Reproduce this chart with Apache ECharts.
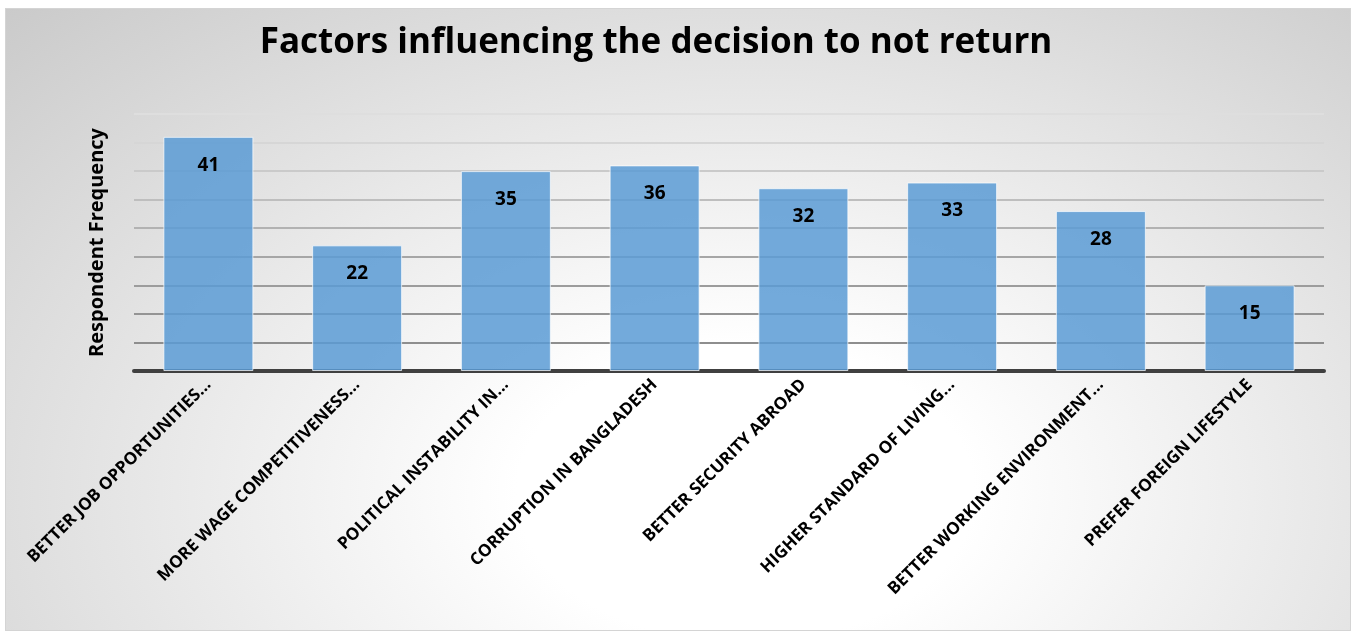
<!DOCTYPE html>
<html>
<head>
<meta charset="utf-8">
<script src="https://cdn.jsdelivr.net/npm/echarts@6/dist/echarts.min.js"></script>
<style>
  html, body { margin: 0; padding: 0; background: #ffffff; }
  #frame {
    position: absolute; left: 5px; top: 8px; width: 1346px; height: 623px;
    box-sizing: border-box; border: 1px solid #d4d4d4;
    background: radial-gradient(ellipse 85% 120% at 55% 78%, #ffffff 0%, #ffffff 20%, #c4c4c4 100%);
  }
  #chart { position: absolute; left: 0; top: 0; width: 1355px; height: 631px; }
</style>
</head>
<body>
<div id="frame"></div>
<div id="chart"></div>
<script>
const titleText = 'Factors influencing the decision to not return';
const yAxisName = 'Respondent Frequency';
const categories = [
  'BETTER JOB OPPORTUNITIES...',
  'MORE WAGE COMPETITIVENESS...',
  'POLITICAL INSTABILITY IN...',
  'CORRUPTION IN BANGLADESH',
  'BETTER SECURITY ABROAD',
  'HIGHER STANDARD OF LIVING...',
  'BETTER WORKING ENVIRONMENT...',
  'PREFER FOREIGN LIFESTYLE'
];
const frequencies = [41, 22, 35, 36, 32, 33, 28, 15];
const yMin = 0, yMax = 45, yInterval = 5;

const gridColors = ['#8a8a8a','#8e8e8e','#949494','#9c9c9c','#a6a6a6','#b2b2b2','#bebebe','#cacaca','#d6d6d6','#dedede'];

const chart = echarts.init(document.getElementById('chart'), null, { renderer: 'canvas' });
chart.setOption({
  backgroundColor: 'transparent',
  title: {
    text: titleText,
    left: 651, top: 21, textAlign: 'center',
    textStyle: { fontFamily: 'Open Sans', fontWeight: 'bold', fontSize: 35, color: '#000000' }
  },
  grid: { left: 134, right: 31, top: 114, bottom: 260, containLabel: false },
  xAxis: {
    type: 'category',
    data: categories,
    axisLine: { show: true, lineStyle: { color: '#404040', width: 4 } },
    axisTick: { show: false },
    axisLabel: {
      interval: 0, rotate: 45, margin: 11,
      fontFamily: 'Open Sans', fontWeight: 'bold', fontSize: 17, color: '#000000'
    }
  },
  yAxis: {
    type: 'value', min: yMin, max: yMax, interval: yInterval,
    name: yAxisName, nameLocation: 'middle', nameGap: 27, nameRotate: 90,
    nameTextStyle: { fontFamily: 'Open Sans', fontWeight: 'bold', fontSize: 20, color: '#000000' },
    axisLine: { show: false }, axisTick: { show: false },
    axisLabel: { show: false },
    splitLine: { show: true, lineStyle: { color: gridColors, width: 2 } }
  },
  series: [{
    type: 'bar',
    data: frequencies,
    barWidth: '60.5%',
    itemStyle: { color: 'rgba(91,155,213,0.85)', borderColor: 'rgba(255,255,255,0.7)', borderWidth: 1 },
    label: {
      show: true, position: 'insideTop', distance: 19,
      fontFamily: 'Open Sans', fontWeight: 'bold', fontSize: 19, color: '#000000'
    },
    animation: false
  }],
  animation: false
});
</script>
</body>
</html>
